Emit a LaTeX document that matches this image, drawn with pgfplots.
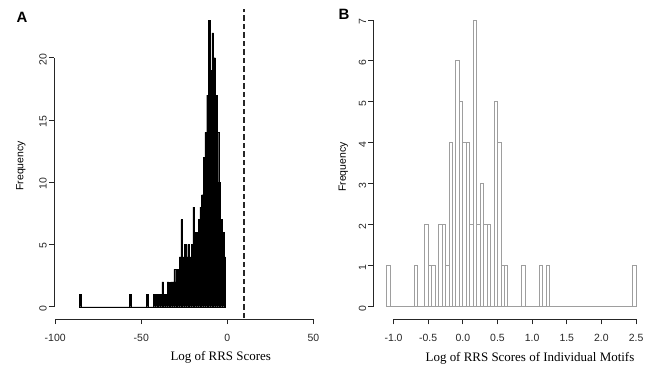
\documentclass[border=0pt]{standalone}
\usepackage{fontspec}
\setmainfont{Liberation Serif}
\setsansfont{Liberation Sans}
\usepackage{pgfplots}
\pgfplotsset{compat=1.18}
\begin{document}
\begin{tikzpicture}
\path[use as bounding box] (0,0) rectangle (648bp,371bp);
\pgfplotsset{rstyle/.style={
  scale only axis, clip=false,
  axis x line*=bottom, axis y line*=left,
  x axis line style={draw=none}, y axis line style={draw=none},
  tick align=outside, major tick length=5bp,
  every tick/.style={black!85, line width=0.9bp},
  tick label style={font=\fontsize{10.5}{12}\selectfont\sffamily, black!85},
  yticklabel style={rotate=90, anchor=south, inner sep=2pt, xshift=-1.5bp},
  xticklabel style={anchor=north, inner sep=2pt, yshift=-8bp},
  xlabel style={font=\fontsize{13}{15}\selectfont, anchor=center},
  ylabel style={font=\fontsize{10.5}{12}\selectfont\sffamily, anchor=center},
}}
% ---------------- Panel A ----------------
\begin{axis}[rstyle,
  at={(54bp,51.85bp)}, anchor=south west,
  width=268bp, height=310.25bp,
  xmin=-100.7, xmax=55, ymin=-1, ymax=23.92,
  xtick={-100,-50,0,50}, xticklabels={-100,-50,0,50},
  ytick={0,5,10,15,20}, yticklabels={0,5,10,15,20},
  xlabel={Log of RRS Scores}, ylabel={Frequency},
  xlabel style={at={(axis description cs:0.622,-0.122)}},
  ylabel style={at={(axis description cs:-0.124,0.494)}},
]
\addplot[ybar interval, fill=black, draw=black, line width=0.3bp] table {
x y
-86 1
-85 0
-84 0
-83 0
-82 0
-81 0
-80 0
-79 0
-78 0
-77 0
-76 0
-75 0
-74 0
-73 0
-72 0
-71 0
-70 0
-69 0
-68 0
-67 0
-66 0
-65 0
-64 0
-63 0
-62 0
-61 0
-60 0
-59 0
-58 0
-57 1
-56 0
-55 0
-54 0
-53 0
-52 0
-51 0
-50 0
-49 0
-48 0
-47 1
-46 0
-45 0
-44 0
-43 1
-42 1
-41 0
-40 1
-39 1
-38 2
-37 1
-36 1
-35 2
-34 1
-33 2
-32 2
-31 3
-30 2
-29 3
-28 4
-27 7
-26 4
-25 5
-24 4
-23 5
-22 4
-21 5
-20 8
-19 6
-18 6
-17 7
-16 8
-15 9
-14 12
-13 14
-12 17
-11 23
-10 19
-9 22
-8 20
-7 17
-6 14
-5 10
-4 7
-3 6
-2 4
-1 0
};
\addplot[black!85, line width=1.3bp, dash pattern=on 5.5bp off 3bp] coordinates {(9.6,-0.92) (9.6,23.92)};
\draw[black!85, line width=1bp] (axis cs:-100,-1) -- (axis cs:50,-1);
\draw[black!85, line width=1bp] (axis cs:-100.7,0) -- (axis cs:-100.7,20);
\end{axis}
% ---------------- Panel B ----------------
\begin{axis}[rstyle,
  at={(373.3bp,51.7bp)}, anchor=south west,
  width=269.7bp, height=310.8bp,
  xmin=-1.292, xmax=2.6, ymin=-0.308, ymax=7.28,
  xtick={-1,-0.5,0,0.5,1,1.5,2,2.5}, xticklabels={-1.0,-0.5,0.0,0.5,1.0,1.5,2.0,2.5},
  ytick={0,1,2,3,4,5,6,7}, yticklabels={0,1,2,3,4,5,6,7},
  xlabel={Log of RRS Scores of Individual Motifs}, ylabel={Frequency},
  xlabel style={at={(axis description cs:0.581,-0.124)}},
  ylabel style={at={(axis description cs:-0.111,0.49)}},
]
\addplot[ybar interval, fill=none, draw=black!38, line width=0.9bp] table {
x y
-1.10 1
-1.05 0
-1.00 0
-0.95 0
-0.90 0
-0.85 0
-0.80 0
-0.75 0
-0.70 1
-0.65 0
-0.60 0
-0.55 2
-0.50 1
-0.45 1
-0.40 0
-0.35 2
-0.30 2
-0.25 1
-0.20 4
-0.15 0
-0.10 6
-0.05 5
0.00 4
0.05 4
0.10 2
0.15 7
0.20 2
0.25 3
0.30 2
0.35 2
0.40 0
0.45 5
0.50 4
0.55 1
0.60 1
0.65 0
0.70 0
0.75 0
0.80 0
0.85 1
0.90 0
0.95 0
1.00 0
1.05 0
1.10 1
1.15 0
1.20 1
1.25 0
1.30 0
1.35 0
1.40 0
1.45 0
1.50 0
1.55 0
1.60 0
1.65 0
1.70 0
1.75 0
1.80 0
1.85 0
1.90 0
1.95 0
2.00 0
2.05 0
2.10 0
2.15 0
2.20 0
2.25 0
2.30 0
2.35 0
2.40 0
2.45 1
2.50 0
};
\draw[black!85, line width=1bp] (axis cs:-1,-0.308) -- (axis cs:2.5,-0.308);
\draw[black!85, line width=1bp] (axis cs:-1.292,0) -- (axis cs:-1.292,7);
\end{axis}
\node[font=\fontsize{15}{17}\selectfont\sffamily\bfseries, anchor=center] at (22bp,353.5bp) {A};
\node[font=\fontsize{15}{17}\selectfont\sffamily\bfseries, anchor=center] at (344bp,356.3bp) {B};
\end{tikzpicture}
\end{document}
